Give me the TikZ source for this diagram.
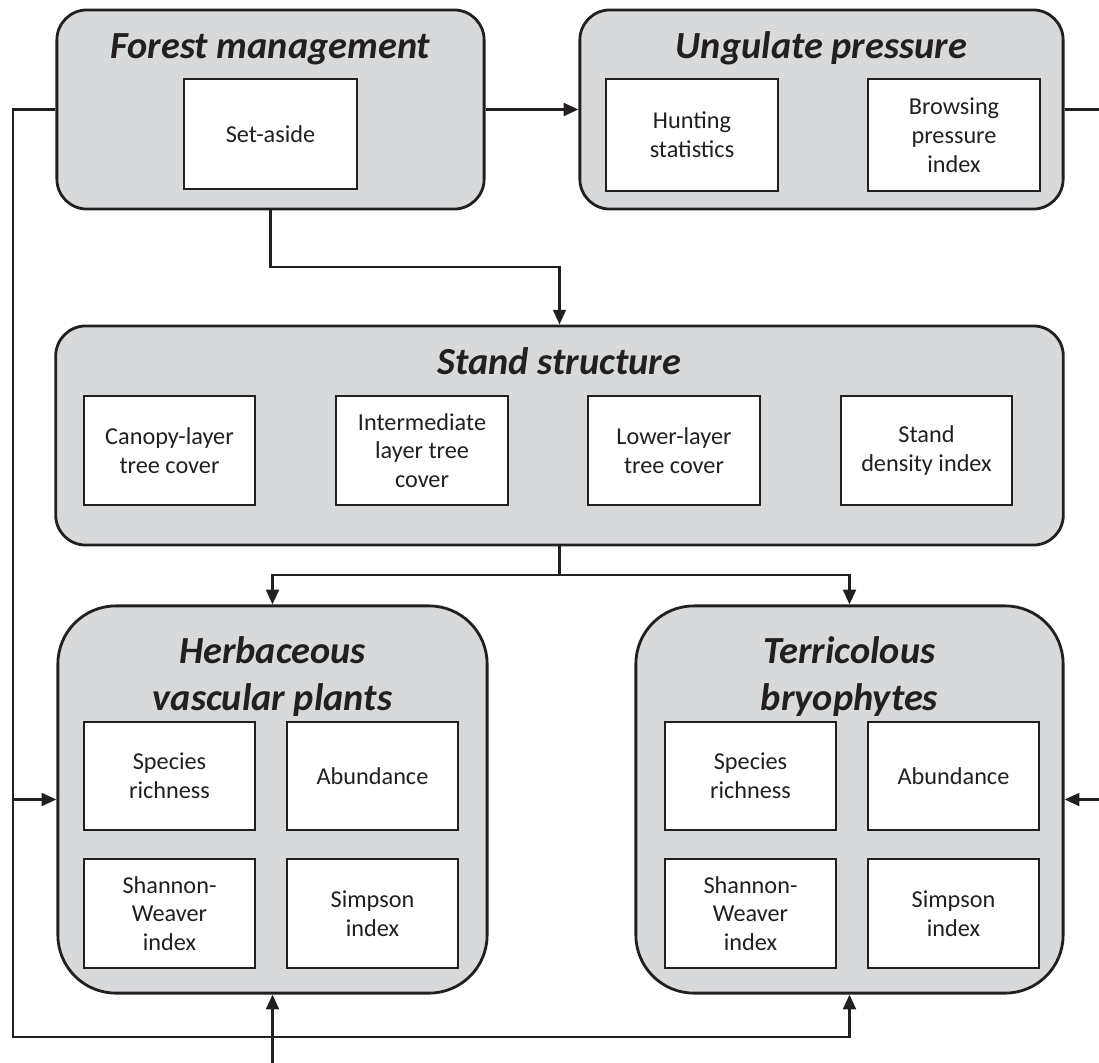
\documentclass[tikz,border=0pt]{standalone}
\usepackage{fontspec}
\setmainfont{Carlito}
\usepackage{tikz}
\usetikzlibrary{arrows.meta, positioning, calc}
\definecolor{grisCaja}{RGB}{216,217,219}
\definecolor{negroLinea}{RGB}{35,31,32}

\tikzset{
  grupo/.style={draw=negroLinea, line width=0.8pt, fill=grisCaja, rounded corners=0.3cm, inner sep=0pt},
  grupoAlto/.style={grupo, rounded corners=0.58cm},
  caja/.style={draw=negroLinea, line width=0.8pt, fill=white, inner sep=0pt, align=center,
    text=negroLinea, font=\fontsize{6.9}{8.2}\selectfont},
  titulo/.style={anchor=base, inner sep=0pt, text=negroLinea,
    font=\fontsize{10.9}{13}\selectfont\bfseries\itshape},
  linea/.style={draw=negroLinea, line width=0.8pt},
  flecha/.style={linea, -{Triangle[length=4.2pt,width=3.6pt]}}
}

\begin{document}
\begin{tikzpicture}[x=0.01cm, y=-0.01cm]
  \useasboundingbox (0,0) rectangle (1099,1063);
  % Fila superior
  \node[grupo, minimum width=4.27cm, minimum height=1.99cm] (forest) at (270.5,109.5) {};
  \node[titulo] (tForest) at (270.5,58) {Forest management};
  \node[caja, minimum width=1.73cm, minimum height=1.10cm] (setaside) at (270.5,134) {Set-aside};
  \node[grupo, minimum width=4.83cm, minimum height=1.99cm] (ungulate) at (821.5,109.5) {};
  \node[titulo] (tUngulate) at (821.5,58) {Ungulate pressure};
  \node[caja, minimum width=1.72cm, minimum height=1.12cm] (hunting) at (692,135) {Hunting\\statistics};
  \node[caja, minimum width=1.72cm, minimum height=1.12cm] (browsing) at (954,135) {Browsing\\pressure\\index};
  % Estructura del rodal
  \node[grupo, minimum width=10.07cm, minimum height=2.19cm] (stand) at (559.5,435.5) {};
  \node[titulo] (tStand) at (559.5,374) {Stand structure};
  \node[caja, minimum width=1.71cm, minimum height=1.09cm] (canopy) at (169.5,450.5) {Canopy-layer\\tree cover};
  \node[caja, minimum width=1.72cm, minimum height=1.09cm] (intermediate) at (422,450.5) {Intermediate\\layer tree\\cover};
  \node[caja, minimum width=1.72cm, minimum height=1.09cm] (lower) at (674,450.5) {Lower-layer\\tree cover};
  \node[caja, minimum width=1.71cm, minimum height=1.09cm] (density) at (926.5,450.5) {Stand\\density index};
  % Plantas vasculares
  \node[grupoAlto, minimum width=4.29cm, minimum height=3.87cm] (herb) at (272.5,799.5) {};
  \node[titulo] (tHerbA) at (272.5,663) {Herbaceous};
  \node[titulo] (tHerbB) at (272.5,710) {vascular plants};
  \node[caja, minimum width=1.71cm, minimum height=1.08cm] (herbRich) at (169.5,776) {Species\\richness};
  \node[caja, minimum width=1.71cm, minimum height=1.08cm] (herbAbund) at (372.5,776) {Abundance};
  \node[caja, minimum width=1.71cm, minimum height=1.09cm] (herbShannon) at (169.5,913.5) {Shannon-\\Weaver\\index};
  \node[caja, minimum width=1.71cm, minimum height=1.09cm] (herbSimpson) at (372.5,913.5) {Simpson\\index};
  % Briofitos
  \node[grupoAlto, minimum width=4.27cm, minimum height=3.87cm] (terr) at (849.5,799.5) {};
  \node[titulo] (tTerrA) at (849.5,663) {Terricolous};
  \node[titulo] (tTerrB) at (849.5,710) {bryophytes};
  \node[caja, minimum width=1.71cm, minimum height=1.08cm] (terrRich) at (750.5,776) {Species\\richness};
  \node[caja, minimum width=1.71cm, minimum height=1.08cm] (terrAbund) at (953.5,776) {Abundance};
  \node[caja, minimum width=1.71cm, minimum height=1.09cm] (terrShannon) at (750.5,913.5) {Shannon-\\Weaver\\index};
  \node[caja, minimum width=1.71cm, minimum height=1.09cm] (terrSimpson) at (953.5,913.5) {Simpson\\index};
  % Puntos de paso
  \coordinate (esqInfIzq) at (13,1037);
  \coordinate (ramaIzq) at (13,799.5);
  \coordinate (bordeDer) at (1110,799.5);
  \coordinate (codoSet) at (270.5,267);
  \coordinate (reparto) at (559.5,575);
  \coordinate (entradaInf) at (272.5,1063);
  % Conectores
  \draw[flecha] (forest.east) -- (ungulate.west);
  \draw[flecha] (forest.west) -| (esqInfIzq) -| (terr.south);
  \draw[flecha] (ramaIzq) -- (herb.west);
  \draw[flecha] (ungulate.east) -| (bordeDer) -- (terr.east);
  \draw[flecha] (forest.south) -- (codoSet) -| (stand.north);
  \draw[linea] (stand.south) -- (reparto);
  \draw[flecha] (reparto) -| (herb.north);
  \draw[flecha] (reparto) -| (terr.north);
  \draw[flecha] (entradaInf) -- (herb.south);
\end{tikzpicture}
\end{document}
